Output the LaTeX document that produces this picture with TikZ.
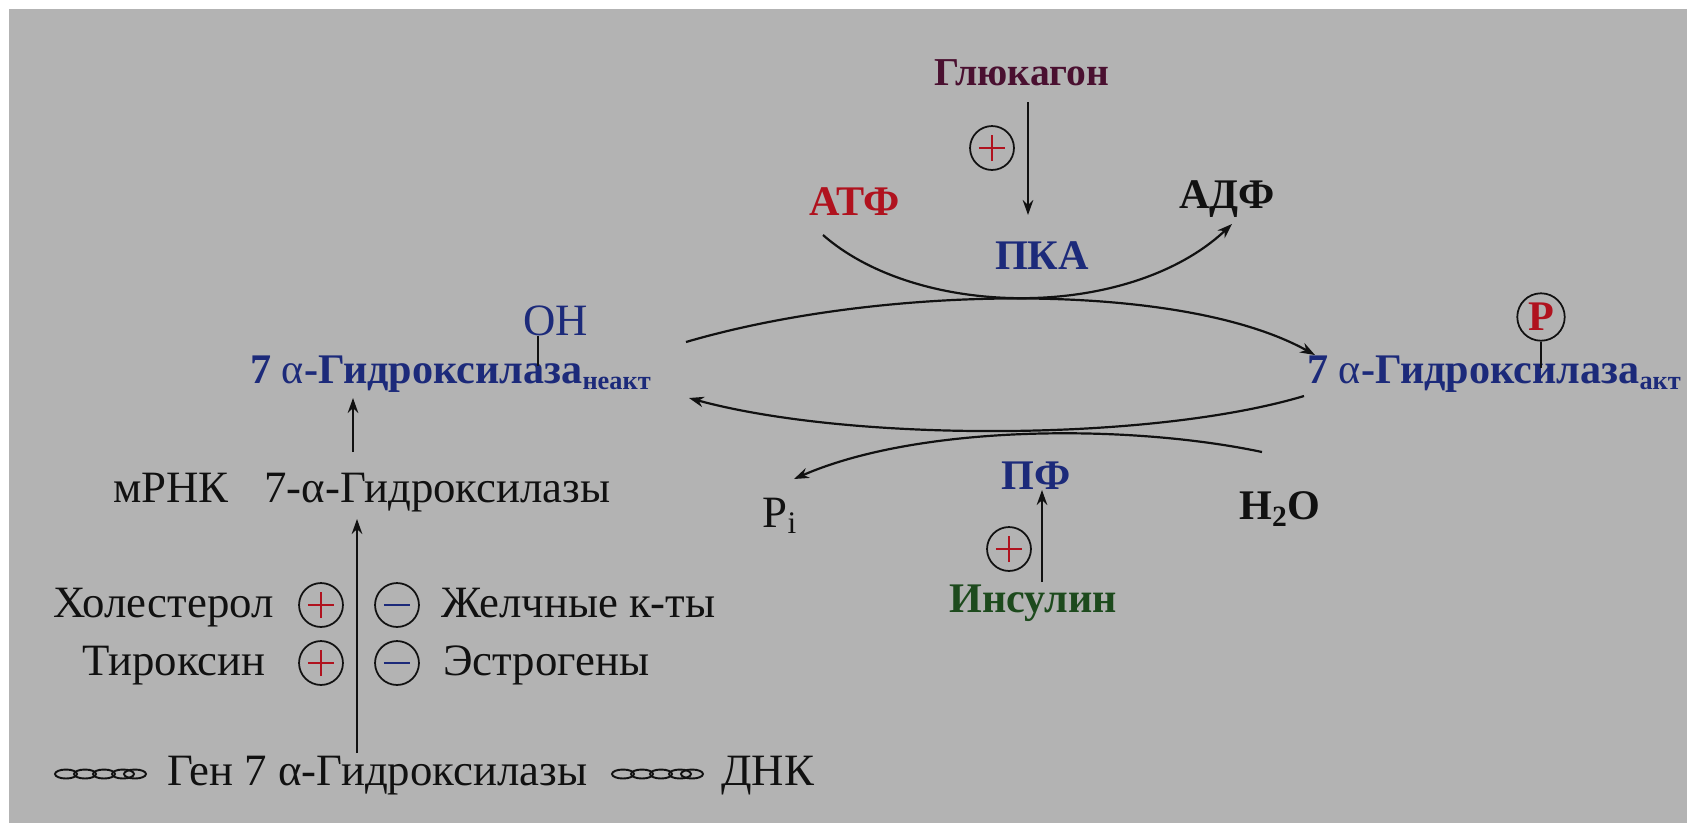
\documentclass[tikz,border=0pt]{standalone}
\usepackage{fontspec}
\setmainfont{Liberation Serif}
\usetikzlibrary{arrows.meta}
\definecolor{bg}{HTML}{B3B3B3}
\definecolor{eblue}{HTML}{1C2A7A}
\definecolor{ered}{HTML}{B0121E}
\definecolor{gluc}{HTML}{4A1030}
\definecolor{ins}{HTML}{1D4A1D}
\definecolor{ink}{HTML}{111111}
\newcommand{\enzsub}[1]{\textsubscript{\fontsize{15pt}{16pt}\selectfont #1}}
\begin{document}
\begin{tikzpicture}[x=0.02cm,y=-0.02cm,
  every node/.style={font=\fontsize{25.5pt}{28pt}\selectfont, inner sep=0pt, text=ink},
  bf/.style={font=\fontsize{24pt}{27pt}\selectfont\bfseries},
  arr/.style={-{Stealth[length=8.5pt,width=6pt]}, line width=1.25pt, draw=ink},
  ln/.style={line width=1.2pt, draw=ink},
  sign/.style={circle, draw=ink, line width=1pt, minimum size=25pt, inner sep=0pt},
  plus/.style={sign, path picture={
     \draw[ered, line width=0.9pt] ([xshift=-7.5pt]path picture bounding box.center) -- ([xshift=7.5pt]path picture bounding box.center);
     \draw[ered, line width=0.9pt] ([yshift=-7.5pt]path picture bounding box.center) -- ([yshift=7.5pt]path picture bounding box.center);}},
  minus/.style={sign, path picture={
     \draw[eblue, line width=1.1pt] ([xshift=-7.5pt]path picture bounding box.center) -- ([xshift=7.5pt]path picture bounding box.center);}},
  dna/.style={line width=1.1pt, draw=ink, x radius=11, y radius=4.5}]
\useasboundingbox (0,0) rectangle (1687,823);
\fill[white] (0,0) rectangle (1687,823);
\fill[bg] (9,9) rectangle (1687,823);

% top part
\node[bf, font=\fontsize{22.5pt}{26pt}\selectfont\bfseries, text=gluc] (gluc) at (1022,73) {Глюкагон};
\coordinate (g1) at (1028,102);
\coordinate (g2) at (1028,215);
\draw[arr] (g1) -- (g2);
\node[plus] (gp) at (992,148) {};
\node[bf, text=ered] (atp) at (855,202) {АТФ};
\node[bf] (adp) at (1227,199) {АДФ};
\node[bf, text=eblue] (pka) at (1042,256) {ПКА};
\coordinate (atpS) at (823,235);
\coordinate (adpT) at (1232,224);
\draw[arr] (atpS) .. controls (920,320) and (1130,320) .. (adpT);

% enzymes
\node[anchor=base west, text=eblue, bf] (enzL) at (250,383) {7 {\mdseries α}-Гидроксилаза\enzsub{неакт}};
\node[anchor=base west, text=eblue, bf] (enzR) at (1307,383) {7 {\mdseries α}-Гидроксилаза\enzsub{акт}};
\node[text=eblue] (oh) at (556,321) {OH};
\coordinate (ohE) at (538,366);
\draw[ln] (oh.south -| ohE) -- (ohE);
\node[sign, minimum size=27pt, text=ered, bf] (pc) at (1541,317) {P};
\coordinate (pE) at (1541,368);
\draw[ln] (pc.south) -- (pE);

% big arcs
\coordinate (a1) at (686,342);
\coordinate (a2) at (1315,355);
\draw[arr] (a1) .. controls (880,285) and (1180,280) .. (a2);
\coordinate (b1) at (1304,396);
\coordinate (b2) at (689,398);
\draw[arr] (b1) .. controls (1150,442) and (850,442) .. (b2);

% phosphatase
\node[bf, text=eblue] (pf) at (1036,476) {ПФ};
\node (pi) at (780,516) {P\textsubscript{i}};
\node[bf] (h2o) at (1280,509) {H\textsubscript{2}O};
\coordinate (hS) at (1262,452);
\coordinate (piT) at (794,479);
\draw[arr] (hS) .. controls (1130,424) and (920,424) .. (piT);
\node[bf, text=ins] (ins) at (1033,603) {Инсулин};
\coordinate (i1) at (1042,582);
\coordinate (i2) at (1042,490);
\draw[arr] (i1) -- (i2);
\node[plus] (ip) at (1009,549) {};

% left column
\coordinate (m1) at (353,452);
\coordinate (m2) at (353,398);
\draw[arr] (m1) -- (m2);
\node[anchor=base west] (mrna) at (113,502) {мРНК};
\node[anchor=base west] (mrna2) at (264,502) {7-α-Гидроксилазы};
\coordinate (l1) at (357,753);
\coordinate (l2) at (357,519);
\draw[arr] (l1) -- (l2);

\node[anchor=base east] (chol) at (274,617) {Холестерол};
\node[anchor=base east] (tyr) at (266,675) {Тироксин};
\node[anchor=base west] (bile) at (441,617) {Желчные к-ты};
\node[anchor=base west] (estr) at (443,675) {Эстрогены};
\node[plus] (cp1) at (321,605) {};
\node[plus] (cp2) at (321,663) {};
\node[minus] (cm1) at (397,605) {};
\node[minus] (cm2) at (397,663) {};

% bottom
\foreach \x in {66,85,104,123,135}{\draw[dna] (\x,774) ellipse [];}
\node[anchor=base west] (gene) at (167,785) {Ген 7 α-Гидроксилазы};
\foreach \x in {623,642,661,680,692}{\draw[dna] (\x,774) ellipse [];}
\node[anchor=base west] (dnk) at (721,785) {ДНК};
\end{tikzpicture}
\end{document}
